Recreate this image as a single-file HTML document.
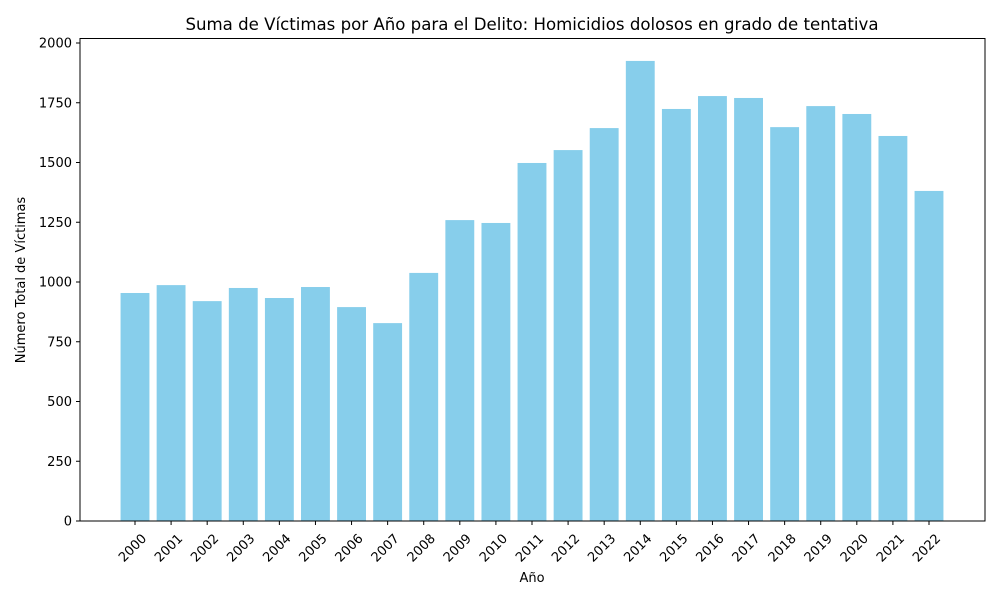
<!DOCTYPE html>
<html><head><meta charset="utf-8"><style>
body{margin:0;background:#fff;font-family:"DejaVu Sans","Liberation Sans",sans-serif;}
svg text{font-family:"DejaVu Sans","Liberation Sans",sans-serif;}
</style></head><body>
<svg id="chart" width="1000" height="600" xmlns="http://www.w3.org/2000/svg">
<rect width="1000" height="600" fill="#fff"/>
<text x="532" y="30" text-anchor="middle" font-size="16.6" fill="#000">Suma de Víctimas por Año para el Delito: Homicidios dolosos en grado de tentativa</text>
<g id="bars"></g>
<g id="yticks"></g>
<g id="xticks"></g>
<rect x="80" y="38.5" width="905" height="482.5" fill="none" stroke="#000" stroke-width="1"/>
<text x="532" y="582" text-anchor="middle" font-size="13">Año</text>
<text transform="translate(25,280) rotate(-90)" text-anchor="middle" font-size="13">Número Total de Víctimas</text>
</svg>
<script>
const categories=["2000","2001","2002","2003","2004","2005","2006","2007","2008","2009","2010","2011","2012","2013","2014","2015","2016","2017","2018","2019","2020","2021","2022"];
const values=[954,987,920,975,933,979,895,828,1038,1259,1247,1498,1552,1644,1925,1724,1778,1770,1648,1736,1703,1611,1381];
const yTicks=[0,250,500,750,1000,1250,1500,1750,2000];
const ns="http://www.w3.org/2000/svg";
const y0=521,pxPer=478/2000;
const yScale=v=>y0-v*pxPer;
const step=(929-135)/22;
const xScale=i=>135+i*step;
const bw=step*0.8;
const bars=document.getElementById('bars'),yt=document.getElementById('yticks'),xt=document.getElementById('xticks');
values.forEach((v,i)=>{
 const r=document.createElementNS(ns,'rect');
 r.setAttribute('x',xScale(i)-bw/2);r.setAttribute('y',yScale(v));
 r.setAttribute('width',bw);r.setAttribute('height',y0-yScale(v));
 r.setAttribute('fill','#87ceeb');
 
 
 bars.appendChild(r);
});
yTicks.forEach(t=>{
 const y=yScale(t);
 const l=document.createElementNS(ns,'line');
 l.setAttribute('x1',76);l.setAttribute('x2',80);l.setAttribute('y1',y);l.setAttribute('y2',y);l.setAttribute('stroke','#000');
 
 
 yt.appendChild(l);
 const tx=document.createElementNS(ns,'text');
 tx.setAttribute('x',72);tx.setAttribute('y',y+4.5);tx.setAttribute('text-anchor','end');tx.setAttribute('font-size','13');
 tx.textContent=t;
 
 
 yt.appendChild(tx);
});
categories.forEach((c,i)=>{
 const x=xScale(i);
 const l=document.createElementNS(ns,'line');
 l.setAttribute('x1',x);l.setAttribute('x2',x);l.setAttribute('y1',521);l.setAttribute('y2',525);l.setAttribute('stroke','#000');
 
 
 xt.appendChild(l);
 const tx=document.createElementNS(ns,'text');
 tx.setAttribute('transform','translate('+(x+6)+',533) rotate(-45)');
 tx.setAttribute('text-anchor','end');tx.setAttribute('font-size','13');
 tx.setAttribute('dominant-baseline','hanging');
 tx.textContent=c;
 
 
 xt.appendChild(tx);
});
</script>
</body></html>
